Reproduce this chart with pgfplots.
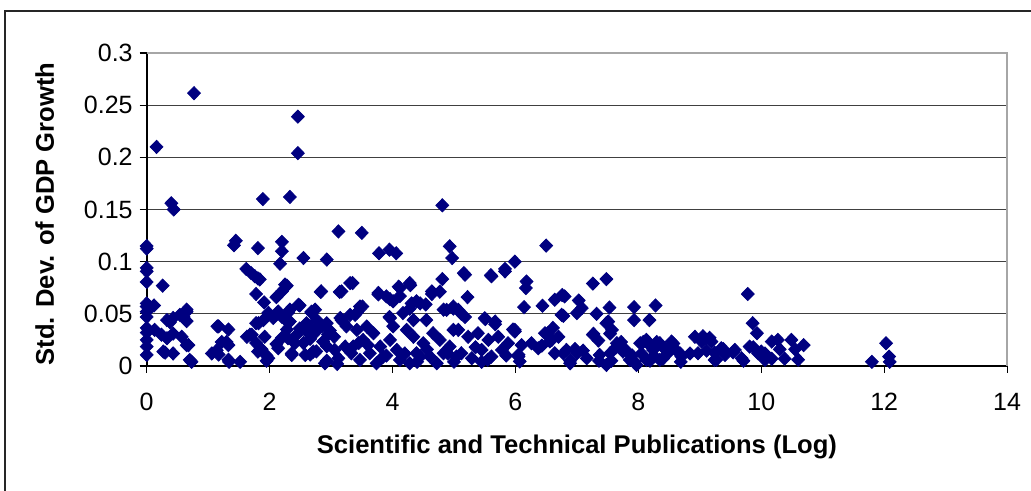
\documentclass[border=0pt]{standalone}
\usepackage{pgfplots}
\pgfplotsset{compat=1.18}
\usepackage{fontspec}
\setmainfont{Liberation Sans}
\definecolor{navyc}{RGB}{0,0,128}
\pgfplotstableread{
x y
0.77 0.2615
0.16 0.210
0.40 0.156
0.44 0.150
2.46 0.239
2.46 0.204
1.89 0.160
2.33 0.162
4.81 0.154
0.00 0.1125
0.00 0.115
1.45 0.120
1.42 0.1157
1.81 0.113
2.20 0.119
2.20 0.110
2.55 0.1035
2.93 0.102
2.17 0.098
3.12 0.129
3.50 0.1276
3.78 0.108
3.95 0.1115
4.06 0.108
4.93 0.1147
4.97 0.1035
6.50 0.1154
5.99 0.100
5.16 0.089
5.60 0.087
5.83 0.093
0.00 0.094
0.00 0.0907
0.00 0.0805
0.26 0.077
1.62 0.093
1.70 0.089
1.81 0.084
1.76 0.086
1.84 0.083
1.78 0.069
1.91 0.061
2.83 0.071
2.28 0.077
2.20 0.0715
2.11 0.066
2.25 0.078
2.49 0.058
2.47 0.0587
0.00 0.057
0.12 0.058
0.00 0.052
0.00 0.047
0.00 0.060
0.00 0.0365
0.00 0.025
0.33 0.044
0.38 0.042
0.43 0.046
0.54 0.049
0.65 0.052
0.65 0.054
0.60 0.047
0.65 0.043
0.00 0.032
0.13 0.0346
0.24 0.030
0.33 0.0266
0.43 0.031
0.00 0.0186
0.00 0.0106
0.30 0.0128
0.43 0.012
0.27 0.0138
0.57 0.028
0.65 0.020
0.68 0.020
0.73 0.004
0.70 0.0058
1.15 0.038
1.17 0.038
1.33 0.035
1.30 0.023
1.22 0.023
1.33 0.020
1.06 0.012
1.14 0.015
1.17 0.011
1.34 0.004
1.52 0.004
1.33 0.006
1.63 0.028
1.68 0.030
1.78 0.041
1.82 0.041
1.98 0.051
2.06 0.046
1.90 0.044
1.78 0.022
1.87 0.016
1.95 0.010
1.95 0.005
1.71 0.030
1.92 0.028
1.81 0.0138
1.98 0.0074
2.14 0.017
2.11 0.021
2.20 0.027
2.28 0.035
2.20 0.047
2.33 0.054
2.28 0.043
2.14 0.0522
2.30 0.051
2.33 0.0426
2.36 0.012
2.36 0.0106
2.44 0.030
2.49 0.036
2.30 0.0266
2.41 0.0218
2.60 0.041
2.68 0.051
2.74 0.054
2.68 0.052
2.77 0.044
2.55 0.022
2.66 0.026
2.74 0.032
2.85 0.038
2.93 0.041
2.66 0.011
2.76 0.014
2.93 0.005
2.93 0.019
2.66 0.030
2.58 0.0106
2.71 0.0138
2.87 0.0234
2.95 0.030
3.06 0.0154
3.12 0.0074
3.23 0.0186
3.33 0.0122
2.90 0.0026
2.66 0.038
2.77 0.036
2.58 0.0346
2.84 0.0715
3.14 0.071
3.17 0.0715
3.31 0.0795
3.35 0.0795
3.17 0.044
3.31 0.049
3.15 0.046
3.20 0.042
3.42 0.051
3.51 0.057
3.47 0.057
3.39 0.049
3.77 0.0686
3.77 0.070
3.90 0.0667
3.96 0.064
4.10 0.076
4.12 0.0747
4.29 0.0775
4.28 0.0795
4.12 0.067
4.01 0.062
4.31 0.060
4.45 0.060
4.64 0.0715
4.64 0.069
4.81 0.0833
4.77 0.0712
5.22 0.066
3.95 0.047
3.96 0.046
4.28 0.055
4.39 0.062
4.54 0.059
4.34 0.044
4.17 0.0507
4.55 0.044
4.83 0.054
4.88 0.0538
4.99 0.055
4.99 0.057
5.12 0.050
5.07 0.0538
5.18 0.047
5.51 0.045
5.50 0.0458
5.67 0.040
5.67 0.0426
5.96 0.035
5.99 0.0346
3.42 0.0346
3.58 0.0378
3.52 0.025
3.69 0.0314
3.80 0.0186
3.63 0.0122
3.85 0.009
3.96 0.025
4.07 0.0154
4.12 0.0058
4.23 0.0346
4.34 0.028
4.39 0.0122
4.50 0.0218
4.61 0.009
4.66 0.0314
4.77 0.025
4.83 0.0122
4.93 0.0186
4.99 0.0346
5.04 0.009
3.74 0.0026
3.47 0.0058
3.36 0.0186
4.28 0.0026
4.72 0.0026
4.01 0.038
4.20 0.012
4.45 0.009
4.56 0.016
4.40 0.004
3.60 0.020
3.90 0.010
5.35 0.018
5.45 0.004
5.55 0.006
5.00 0.004
4.90 0.012
5.85 0.010
6.10 0.020
3.05 0.028
2.98 0.034
3.25 0.038
3.45 0.022
3.10 0.002
5.18 0.0875
5.61 0.086
5.83 0.0907
6.18 0.081
6.17 0.0747
6.14 0.0564
6.44 0.0577
6.64 0.0635
6.76 0.068
6.80 0.0667
6.75 0.049
6.78 0.048
5.07 0.0346
5.23 0.028
5.39 0.0314
5.56 0.025
5.72 0.028
5.88 0.0218
6.05 0.009
6.37 0.017
5.45 0.0154
5.61 0.009
5.12 0.0122
5.29 0.0074
5.78 0.0154
6.64 0.0122
6.70 0.028
6.48 0.0314
6.59 0.025
6.26 0.0218
7.26 0.079
7.48 0.0833
7.03 0.0628
7.08 0.0555
7.00 0.0507
7.32 0.050
7.53 0.056
7.51 0.0426
7.57 0.0346
7.93 0.0564
7.93 0.044
8.28 0.058
8.18 0.044
5.99 0.033
6.43 0.0195
6.53 0.0315
6.61 0.0365
6.56 0.0236
6.05 0.0108
6.07 0.0044
6.78 0.012
6.89 0.0051
6.97 0.0163
7.10 0.0147
7.27 0.0308
7.35 0.0244
7.36 0.005
7.56 0.005
7.64 0.018
7.72 0.023
7.80 0.015
7.90 0.010
7.94 0.004
8.08 0.023
8.19 0.0196
8.30 0.023
8.40 0.018
8.57 0.0215
8.68 0.012
8.84 0.012
8.92 0.028
9.03 0.0234
9.11 0.0147
8.19 0.005
8.40 0.007
8.69 0.004
7.48 0.041
7.54 0.031
7.26 0.030
6.83 0.0154
7.00 0.0122
7.16 0.0074
7.37 0.0106
7.54 0.0122
7.65 0.0218
7.75 0.0138
7.86 0.0058
8.03 0.0218
8.13 0.025
8.24 0.0154
8.35 0.0218
8.46 0.0154
7.48 0.001
6.89 0.0026
7.97 0.001
8.13 0.0058
8.35 0.0058
8.25 0.010
8.05 0.012
8.60 0.016
8.54 0.0234
9.08 0.0266
9.19 0.0234
9.35 0.017
9.57 0.0154
9.81 0.0186
10.00 0.0138
9.68 0.0074
8.48 0.0122
8.70 0.009
8.97 0.0122
9.24 0.0058
9.41 0.0106
10.06 0.0058
9.78 0.069
9.86 0.041
9.93 0.0314
9.05 0.0285
9.16 0.027
9.38 0.0163
9.54 0.0131
9.71 0.005
9.27 0.006
9.24 0.0128
9.87 0.018
9.95 0.012
10.06 0.012
10.17 0.007
10.17 0.0234
10.27 0.025
10.30 0.016
10.38 0.007
10.49 0.025
10.55 0.016
10.60 0.006
10.69 0.020
11.80 0.004
12.03 0.0218
12.08 0.009
12.09 0.004
}\datatable
\begin{document}
\begin{tikzpicture}
\useasboundingbox (0,0) rectangle (515.5pt,245.5pt);
\draw[line width=0.9pt, black!85] (2.5pt,0pt) -- (2.5pt,240pt) -- (515.5pt,240pt);
\begin{axis}[
  at={(73.35pt,62.5pt)}, anchor=south west,
  scale only axis, width=430.2pt, height=156.5pt,
  xmin=0, xmax=14, ymin=0, ymax=0.3,
  xtick={0,2,4,6,8,10,12,14},
  ytick={0,0.05,0.1,0.15,0.2,0.25,0.3},
  yticklabels={0,0.05,0.1,0.15,0.2,0.25,0.3},
  axis x line*=bottom, axis y line*=left,
  axis line style={black, line width=0.8pt},
  ymajorgrids, grid style={black!75, line width=0.5pt},
  tick align=outside, major tick length=3.5pt,
  tick style={black, line width=0.6pt},
  /pgf/number format/assume math mode=true,
  ticklabel style={font=\fontsize{12.5}{14}\selectfont},
  xticklabel style={yshift=-6.5pt},
  xlabel={Scientific and Technical Publications (Log)},
  ylabel={Std. Dev. of GDP Growth},
  xlabel style={font=\bfseries\fontsize{12.8}{14}\selectfont, at={(axis description cs:0.5,-0.259)}, anchor=center},
  ylabel style={font=\bfseries\fontsize{12.8}{14}\selectfont, at={(axis description cs:-0.1186,0.486)}, anchor=center, rotate=0},
  clip=false,
]
\draw[gray!70, line width=1pt] (rel axis cs:0,1) -- (rel axis cs:1,1) -- (rel axis cs:1,0);
\addplot[only marks, mark=diamond*, mark size=3.3pt, mark options={fill=navyc, draw=navyc, xscale=1.3}] table[x=x,y=y] {\datatable};
\end{axis}
\end{tikzpicture}
\end{document}
